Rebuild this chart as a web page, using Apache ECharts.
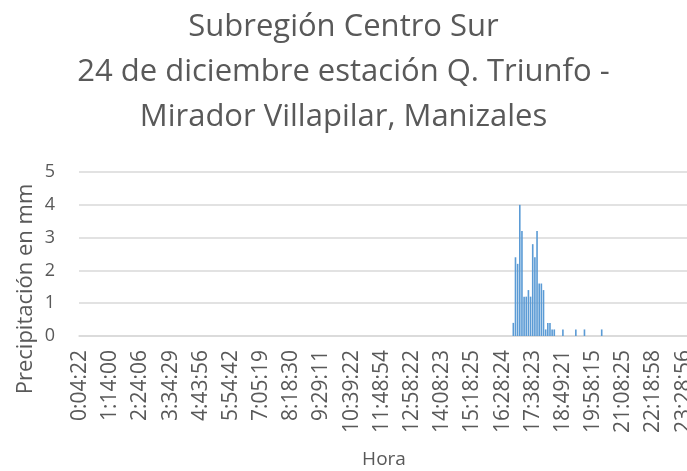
<!DOCTYPE html>
<html>
<head>
<meta charset="utf-8">
<script src="https://cdn.jsdelivr.net/npm/echarts@6/dist/echarts.min.js"></script>
<style>
	html, body { margin: 0; padding: 0; background: #fff; }
	#myChart { width: 687px; height: 471px; }
</style>
</head>
<body>
<div id="myChart"></div>
<script>
// etiquetas visibles del eje (una cada 14 registros)
var horaEtiquetas = ['0:04:22', '1:14:00', '2:24:06', '3:34:29', '4:43:56', '5:54:42', '7:05:19',
	'8:18:30', '9:29:11', '10:39:22', '11:48:54', '12:58:22', '14:08:23', '15:18:25', '16:28:24',
	'17:38:23', '18:49:21', '19:58:15', '21:08:25', '22:18:58', '23:28:56'];
var pasoEtiqueta = 14;
var totalRegistros = 283;

// registros con lluvia (posición del registro y precipitación en mm)
var registroLluvia = [201, 202, 203, 204, 205, 206, 207, 208, 209, 210, 211, 212, 213, 214, 215,
	216, 217, 218, 219, 220, 224, 230, 234, 242];
var precipitacion = [0.4, 2.4, 2.2, 4.0, 3.2, 1.2, 1.2, 1.4, 1.2, 2.8, 2.4, 3.2, 1.6, 1.6, 1.4,
	0.2, 0.4, 0.4, 0.2, 0.2, 0.2, 0.2, 0.2, 0.2];

var categorias = [];
var valores = [];
for (var i = 0; i < totalRegistros; i++) {
	categorias.push(i % pasoEtiqueta === 0 ? (horaEtiquetas[i / pasoEtiqueta] || '') : '');
	valores.push(0);
}
for (var j = 0; j < registroLluvia.length; j++) {
	valores[registroLluvia[j]] = precipitacion[j];
}

var fuente = '"Open Sans", sans-serif';
var myChart = echarts.init(document.getElementById('myChart'));
var option = {
	animation: false,
	title: {
		text: 'Subregión Centro Sur\n24 de diciembre estación Q. Triunfo -\nMirador Villapilar, Manizales',
		left: 'center',
		top: 0,
		textStyle: {
			fontFamily: fuente,
			fontSize: 31,
			fontWeight: 'normal',
			color: '#595959',
			lineHeight: 45
		}
	},
	grid: {
		left: 79,
		right: -2,
		top: 172,
		bottom: 135,
		outerBoundsMode: 'none'
	},
	xAxis: {
		type: 'category',
		data: categorias,
		name: 'Hora',
		nameLocation: 'middle',
		nameGap: 114,
		nameTextStyle: { fontFamily: fuente, fontSize: 19, color: '#595959' },
		axisLine: { lineStyle: { color: '#d9d9d9', width: 1.5 } },
		axisTick: { show: false },
		axisLabel: {
			interval: pasoEtiqueta - 1,
			rotate: 90,
			margin: 14,
			fontFamily: fuente,
			fontSize: 21,
			color: '#595959'
		}
	},
	yAxis: {
		type: 'value',
		min: 0,
		max: 5,
		interval: 1,
		axisLine: { show: false },
		axisTick: { show: false },
		splitLine: { lineStyle: { color: '#d9d9d9', width: 1.5 } },
		axisLabel: {
			margin: 24,
			fontFamily: fuente,
			fontSize: 18,
			color: '#595959'
		}
	},
	graphic: [{
		type: 'text',
		x: 26,
		y: 289,
		rotation: Math.PI / 2,
		style: {
			text: 'Precipitación en mm',
			fontFamily: fuente,
			fontSize: 22,
			fill: '#595959',
			align: 'center',
			verticalAlign: 'middle'
		}
	}],
	series: [{
		name: 'Precipitación',
		type: 'bar',
		data: valores,
		barCategoryGap: '25%',
		itemStyle: { color: '#5B9BD5' }
	}]
};
myChart.setOption(option);
</script>
</body>
</html>
